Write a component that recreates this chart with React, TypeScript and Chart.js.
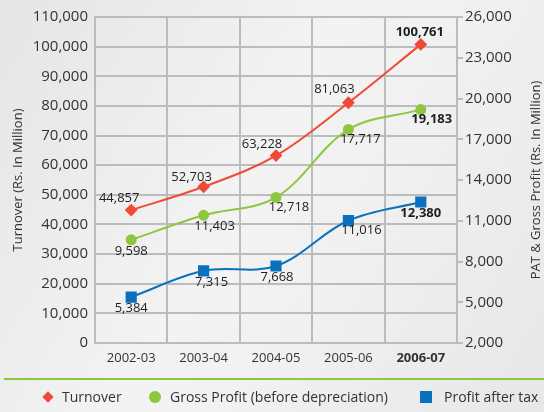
import React, { useEffect, useRef } from "react";
import { Chart, registerables } from "chart.js";

Chart.register(...registerables);

const categories = ["2002-03", "2003-04", "2004-05", "2005-06", "2006-07"];
const turnover = [44857, 52703, 63228, 81063, 100761];
const grossProfit = [9598, 11403, 12718, 17717, 19183];
const profitAfterTax = [5384, 7315, 7668, 11016, 12380];
const rightAxisTitle = "PAT & Gross Profit (Rs. In Million)";

const FONT = "'Open Sans', sans-serif";
const TEXT = "#333333";
const GRID = "#bbbcbe";
const RED = "#f04a37";
const GREEN = "#8dc63f";
const BLUE = "#0a72bd";

// label offsets (dx, dy) per dataset, per point
const labelOffsets = [
  [[-12, -12], [-12, -10], [-14, -11], [-14, -13], [-1, -12]],
  [[0, 12], [11, 11], [13, 10], [12, 10], [11, 10]],
  [[0, 11], [8, 11], [1, 11], [13, 10], [0, 11]],
];

const valueLabels = {
  id: "valueLabels",
  afterDatasetsDraw(chart: any) {
    const ctx = chart.ctx;
    ctx.save();
    ctx.textAlign = "center";
    ctx.textBaseline = "middle";
    ctx.fillStyle = "#1e1e1e";
    chart.data.datasets.forEach((ds: any, di: number) => {
      const meta = chart.getDatasetMeta(di);
      meta.data.forEach((pt: any, i: number) => {
        const v = ds.data[i] as number;
        const [dx, dy] = labelOffsets[di][i];
        ctx.font = (i === 4 ? "bold " : "") + "13px " + FONT;
        ctx.fillText(v.toLocaleString("en-US"), pt.x + dx, pt.y + dy);
      });
    });
    // right axis title, reading bottom-to-top
    const area = chart.chartArea;
    ctx.translate(536, (area.top + area.bottom) / 2);
    ctx.rotate(-Math.PI / 2);
    ctx.font = "13px " + FONT;
    ctx.fillStyle = TEXT;
    ctx.fillText(rightAxisTitle, 0, 0);
    ctx.restore();
  },
};

export default function App() {
  const ref = useRef<HTMLCanvasElement>(null);
  useEffect(() => {
    if (!ref.current) return;
    const chart = new Chart(ref.current, {
      type: "line",
      data: {
        labels: categories,
        datasets: [
          {
            label: "Turnover",
            data: turnover,
            yAxisID: "y",
            borderColor: RED,
            backgroundColor: RED,
            borderWidth: 2,
            pointStyle: "rectRot",
            pointRadius: 5,
            tension: 0.35,
          },
          {
            label: "Gross Profit (before depreciation)",
            data: grossProfit,
            yAxisID: "y1",
            borderColor: GREEN,
            backgroundColor: GREEN,
            borderWidth: 2,
            pointStyle: "circle",
            pointRadius: 4.5,
            tension: 0.35,
          },
          {
            label: "Profit after tax",
            data: profitAfterTax,
            yAxisID: "y1",
            borderColor: BLUE,
            backgroundColor: BLUE,
            borderWidth: 2,
            pointStyle: "rect",
            pointRadius: 6.5,
            tension: 0.35,
          },
        ],
      },
      options: {
        animation: false,
        responsive: false,
        layout: { padding: { top: 17, left: 0, right: 0, bottom: 0 } },
        plugins: {
          legend: { display: false },
          tooltip: { enabled: false },
        },
        scales: {
          x: {
            offset: true,
            grid: { offset: true, color: GRID, lineWidth: 2, drawTicks: false },
            border: { color: GRID, width: 2 },
            ticks: {
              padding: 7,
              color: TEXT,
              font: (c: any) => ({ family: FONT, size: 13, weight: c.index === 4 ? "bold" : "normal" }),
            },
            afterFit: (s: any) => {
              s.height = 69;
            },
          },
          y: {
            position: "left",
            min: 0,
            max: 110000,
            grid: { color: GRID, lineWidth: 2, drawTicks: false },
            border: { color: GRID, width: 2 },
            ticks: {
              stepSize: 10000,
              padding: 7,
              color: TEXT,
              font: { family: FONT, size: 15 },
              callback: (v: any) => Number(v).toLocaleString("en-US"),
            },
            title: {
              display: true,
              text: "Turnover (Rs. In Million)",
              color: TEXT,
              font: { family: FONT, size: 13 },
              padding: { top: 10, bottom: 0 },
            },
            afterFit: (s: any) => {
              s.width = 95;
            },
          },
          y1: {
            position: "right",
            min: 2000,
            max: 26000,
            grid: { drawOnChartArea: false, color: GRID, lineWidth: 2, tickLength: 6 },
            border: { color: GRID, width: 2 },
            ticks: {
              stepSize: 3000,
              padding: 2,
              color: TEXT,
              font: { family: FONT, size: 15 },
              callback: (v: any) => Number(v).toLocaleString("en-US"),
            },
            afterFit: (s: any) => {
              s.width = 87;
            },
          },
        },
      },
      plugins: [valueLabels],
    });
    return () => chart.destroy();
  }, []);

  const itemText: React.CSSProperties = {
    position: "absolute",
    top: 388,
    fontFamily: FONT,
    fontSize: 14,
    color: TEXT,
    lineHeight: "18px",
    whiteSpace: "nowrap",
  };

  return (
    <div
      style={{
        position: "fixed",
        left: 0,
        top: 0,
        width: 544,
        height: 412,
        overflow: "hidden",
        background: "linear-gradient(120deg, #e4e5e6 0%, #f3f3f3 45%, #f1f1f1 60%, #e6e7e8 100%)",
      }}
    >
      <canvas ref={ref} width={544} height={412} style={{ position: "absolute", left: 0, top: 0 }} />
      <div style={{ position: "absolute", left: 4, top: 378, width: 540, height: 2, background: GREEN }} />
      <div
        style={{
          position: "absolute",
          left: 44,
          top: 393,
          width: 8,
          height: 8,
          background: RED,
          transform: "rotate(45deg)",
        }}
      />
      <div style={{ ...itemText, left: 62 }}>Turnover</div>
      <div
        style={{
          position: "absolute",
          left: 149,
          top: 391,
          width: 12,
          height: 12,
          borderRadius: 6,
          background: GREEN,
        }}
      />
      <div style={{ ...itemText, left: 170 }}>Gross Profit (before depreciation)</div>
      <div style={{ position: "absolute", left: 420, top: 391, width: 12, height: 12, background: BLUE }} />
      <div style={{ ...itemText, left: 444 }}>Profit after tax</div>
    </div>
  );
}
